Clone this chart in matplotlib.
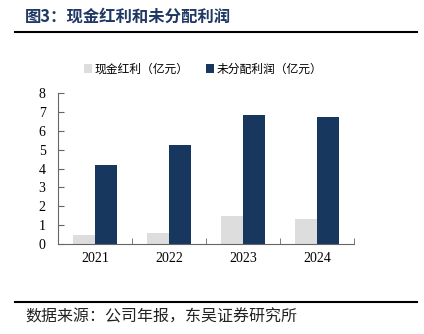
import matplotlib
matplotlib.use("Agg")
import matplotlib.pyplot as plt
import numpy as np

years = ["2021", "2022", "2023", "2024"]
dividend = [0.5, 0.6, 1.5, 1.3]
undistributed = [4.2, 5.25, 6.85, 6.75]
series_names = ["现金红利（亿元）", "未分配利润（亿元）"]
yticks = [0, 1, 2, 3, 4, 5, 6, 7, 8]

cjk = ["Noto Sans CJK SC", "DejaVu Sans"]
serif = ["Liberation Serif", "DejaVu Serif"]

W, H = 424, 334
fig = plt.figure(figsize=(W / 100, H / 100), dpi=100)

ax = fig.add_axes([58 / W, 1 - 244 / H, (354 - 58) / W, (244 - 93) / H])
x = np.arange(len(years))
bw = 0.3
ax.bar(x - bw / 2, dividend, bw, color="#DDDDDD", label=series_names[0])
ax.bar(x + bw / 2, undistributed, bw, color="#17375E", label=series_names[1])
ax.set_xlim(-0.5, len(years) - 0.5)
ax.set_ylim(0, 8)
ax.set_yticks(yticks)
ax.set_xticks(x)
ax.set_xticklabels(years, fontfamily=serif, fontsize=10)
for t in ax.get_yticklabels():
    t.set_fontfamily(serif)
    t.set_fontsize(10)
ax.set_xticks(np.arange(len(years) + 1) - 0.5, minor=True)
ax.tick_params(axis="x", which="major", length=0, pad=6)
ax.tick_params(axis="x", which="minor", length=4, direction="in", color="#666666")
ax.tick_params(axis="y", length=4, direction="in", color="#666666", pad=9)
for s in ["top", "right"]:
    ax.spines[s].set_visible(False)
for s in ["left", "bottom"]:
    ax.spines[s].set_color("#666666")
    ax.spines[s].set_linewidth(0.8)

leg = fig.legend(loc="center", bbox_to_anchor=(203 / W, 1 - 69 / H), ncol=2,
                 frameon=False, prop={"family": cjk, "size": 8.5},
                 handlelength=0.7, handleheight=0.7, handletextpad=0.2, columnspacing=1.5)

fig.text(25 / W, 1 - 17 / H, "图3：现金红利和未分配利润", fontfamily=cjk, fontsize=11.8,
         fontweight="bold", color="#1F3864", va="center", ha="left")
fig.add_artist(plt.Line2D([15 / W, 417 / W], [1 - 32 / H] * 2, color="black", lw=1.5))
fig.add_artist(plt.Line2D([15 / W, 417 / W], [1 - 302 / H] * 2, color="black", lw=1.5))
fig.text(25 / W, 1 - 317 / H, "数据来源：公司年报，东吴证券研究所", fontfamily=cjk, fontsize=11.5,
         color="#222222", va="center", ha="left")

fig.savefig("out.png", dpi=100)
